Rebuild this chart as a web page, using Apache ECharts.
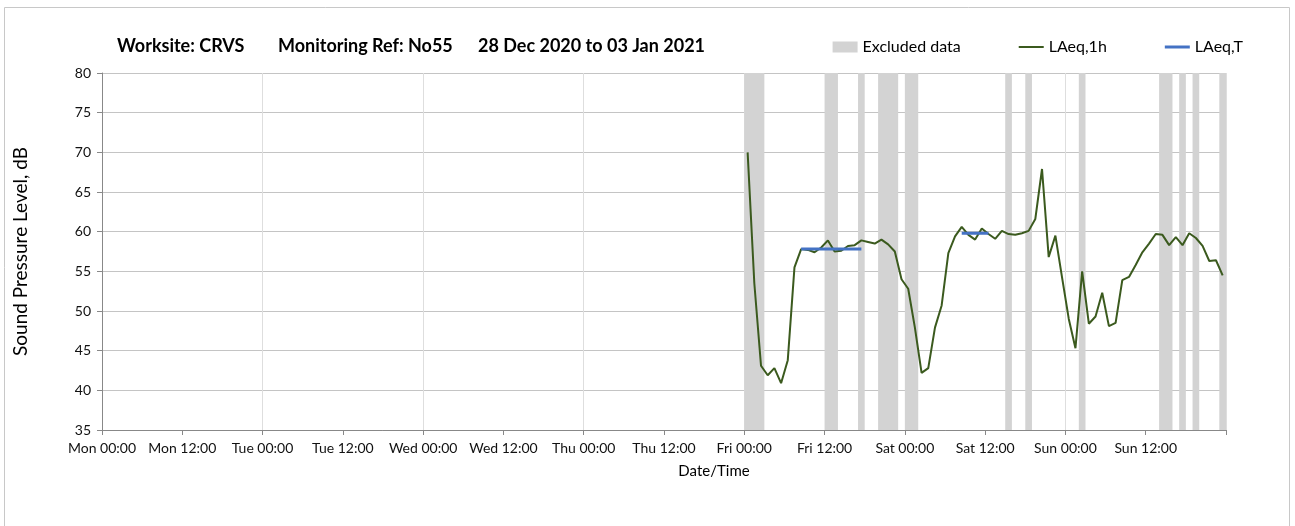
<!DOCTYPE html>
<html>
<head>
<meta charset="utf-8">
<title>CRVS N055 noise</title>
<script src="https://cdn.jsdelivr.net/npm/echarts@6/dist/echarts.min.js"></script>
<style>
  html, body { margin: 0; padding: 0; background: #fff; }
  #chart { width: 1295px; height: 526px; }
</style>
</head>
<body>
<div id="chart"></div>
<script>
// x axis is hours from Mon 00:00, one tick every 12 h
const tickLabels = ['Mon 00:00', 'Mon 12:00', 'Tue 00:00', 'Tue 12:00', 'Wed 00:00', 'Wed 12:00',
  'Thu 00:00', 'Thu 12:00', 'Fri 00:00', 'Fri 12:00', 'Sat 00:00', 'Sat 12:00', 'Sun 00:00', 'Sun 12:00', ''];

// hourly LAeq,1h, first value is Fri 00:00-01:00 (plotted at mid hour)
const hourlyFirst = 96.5;
const laeq1h = [
  70.0, 53.5, 43.1, 41.9, 42.8, 40.9, 43.8, 55.5, 57.8, 57.7, 57.4, 58.0,
  58.9, 57.5, 57.6, 58.2, 58.3, 58.9, 58.7, 58.5, 59.0, 58.4, 57.5, 54.0,
  52.8, 47.9, 42.2, 42.8, 47.9, 50.7, 57.3, 59.4, 60.6, 59.6, 59.0, 60.4,
  59.7, 59.1, 60.1, 59.7, 59.6, 59.8, 60.1, 61.6, 67.9, 56.8, 59.5, 54.2,
  49.0, 45.3, 55.0, 48.4, 49.3, 52.3, 48.1, 48.5, 53.9, 54.3, 55.8, 57.4,
  58.5, 59.7, 59.6, 58.3, 59.3, 58.3, 59.8, 59.2, 58.2, 56.3, 56.4, 54.5
];

// LAeq,T periods (Fri day, Sat morning)
const laeqTFrom = [104.5, 128.5];
const laeqTTo = [113.5, 132.5];
const laeqT = [57.8, 59.8];

// excluded hours [from, to]
const excluded = [
  [96, 99], [108, 110], [113, 114], [116, 119], [120, 122], [135, 136],
  [138, 139], [146, 147], [158, 160], [161, 162], [163, 164], [167, 168]
];

const font = 'Lato';
const chart = echarts.init(document.getElementById('chart'));

const hourlyData = laeq1h.map((v, i) => [hourlyFirst + i, v]);
const tData = [];
laeqT.forEach((v, i) => {
  if (i > 0) tData.push(['-', '-']);
  tData.push([laeqTFrom[i], v], [laeqTTo[i], v]);
});

const titleStyle = { fontFamily: font, fontSize: 18, fontWeight: 'bold', color: '#000' };

const option = {
  animation: false,
  backgroundColor: '#fff',
  textStyle: { fontFamily: font },
  graphic: [{
    type: 'rect',
    shape: { x: 4.5, y: 7.5, width: 1285, height: 530 },
    style: { fill: null, stroke: '#c8c8c8', lineWidth: 1 },
    silent: true
  }],
  // three parts of the heading, spaced like the original
  title: [
    { text: 'Worksite: CRVS', left: 112, top: 32, textStyle: titleStyle },
    { text: 'Monitoring Ref: No55', left: 273, top: 32, textStyle: titleStyle },
    { text: '28 Dec 2020 to 03 Jan 2021', left: 473, top: 32, textStyle: titleStyle }
  ],
  legend: {
    right: 47,
    top: 34,
    itemWidth: 25,
    itemHeight: 11,
    itemGap: 58,
    textStyle: { fontFamily: font, fontSize: 16, color: '#000' },
    data: [
      { name: 'Excluded data', icon: 'rect' },
      { name: 'LAeq,1h', icon: 'path://M0,0H25V2H0Z' },
      { name: 'LAeq,T', icon: 'path://M0,0H25V3H0Z' }
    ]
  },
  grid: { left: 102, right: 69, top: 73, bottom: 96 },
  xAxis: [{
    type: 'value',
    min: 0,
    max: 168,
    interval: 12,
    name: 'Date/Time',
    nameLocation: 'middle',
    nameGap: 34,
    nameTextStyle: { fontFamily: font, fontSize: 15, color: '#000', padding: [0, 0, 0, 100] },
    axisLine: { lineStyle: { color: '#888' } },
    axisTick: { length: 5, lineStyle: { color: '#888' } },
    axisLabel: {
      fontFamily: font, fontSize: 14, color: '#111', margin: 11,
      formatter: v => tickLabels[Math.round(v / 12)]
    },
    splitLine: { show: false }
  }, {
    // daily vertical gridlines only
    type: 'value',
    min: 0,
    max: 168,
    interval: 24,
    position: 'bottom',
    axisLine: { show: false },
    axisTick: { show: false },
    axisLabel: { show: false },
    splitLine: { show: true, lineStyle: { color: '#dedede' } }
  }],
  yAxis: {
    type: 'value',
    min: 35,
    max: 80,
    interval: 5,
    name: 'Sound Pressure Level, dB',
    nameLocation: 'middle',
    nameGap: 72,
    nameTextStyle: { fontFamily: font, fontSize: 19, color: '#000' },
    axisLine: { show: true, lineStyle: { color: '#888' } },
    axisTick: { show: true, length: 5, lineStyle: { color: '#888' } },
    axisLabel: { fontFamily: font, fontSize: 14, color: '#111', margin: 11 },
    splitLine: { lineStyle: { color: '#c4c4c4' } }
  },
  series: [
    {
      name: 'Excluded data',
      type: 'line',
      data: [],
      itemStyle: { color: '#d3d3d3' },
      lineStyle: { color: '#d3d3d3' },
      z: 1,
      markArea: {
        silent: true,
        itemStyle: { color: '#d3d3d3' },
        data: excluded.map(r => [{ xAxis: r[0] }, { xAxis: r[1] }])
      }
    },
    {
      name: 'LAeq,1h',
      type: 'line',
      data: hourlyData,
      symbol: 'none',
      lineStyle: { color: '#3b5a1e', width: 2 },
      itemStyle: { color: '#3b5a1e' },
      z: 3
    },
    {
      name: 'LAeq,T',
      type: 'line',
      data: tData,
      symbol: 'none',
      lineStyle: { color: '#4472c4', width: 3 },
      itemStyle: { color: '#4472c4' },
      z: 4
    }
  ]
};

chart.setOption(option);
</script>
</body>
</html>
